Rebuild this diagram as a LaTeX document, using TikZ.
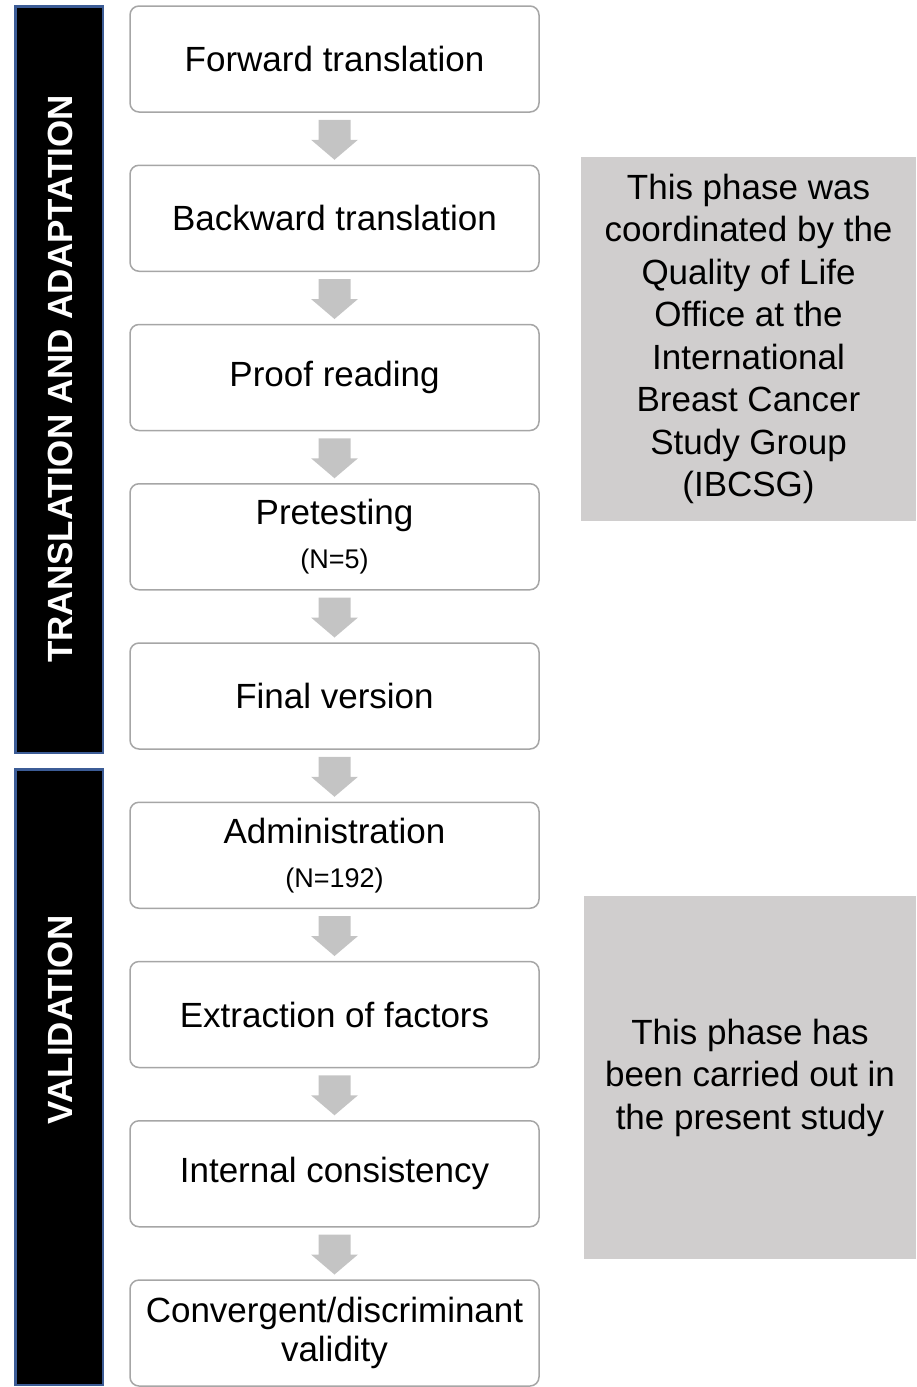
\documentclass[tikz,border=0pt]{standalone}
\usepackage{fontspec}
\setmainfont{Liberation Sans}
\definecolor{barblue}{RGB}{60,92,150}
\definecolor{boxline}{RGB}{166,166,166}
\definecolor{notegrey}{RGB}{208,206,206}
\definecolor{arrowgrey}{RGB}{196,196,196}
\tikzset{
  stepbox/.style={draw=boxline, line width=1.5pt, rounded corners=9pt, fill=white,
    minimum width=409pt, minimum height=106pt, inner sep=0pt, align=center,
    font=\fontsize{35}{44}\selectfont},
  phasebar/.style={fill=black, draw=barblue, line width=2.5pt},
  phaselabel/.style={rotate=90, text=white, font=\bfseries\fontsize{35}{42}\selectfont},
  notebox/.style={fill=notegrey, draw=none, inner sep=0pt, align=center,
    font=\fontsize{35}{42.5}\selectfont},
  blockarrow/.style={fill=arrowgrey, draw=none}
}
\newcommand{\blockdown}[1]{%
  \fill[blockarrow, shift={(#1.south)}] (-16pt,-7pt) -- (16pt,-7pt) -- (16pt,-27pt)
    -- (23.5pt,-27pt) -- (0pt,-47pt) -- (-23.5pt,-27pt) -- (-16pt,-27pt) -- cycle;}
\begin{document}
\begin{tikzpicture}[x=1pt,y=-1pt]
\useasboundingbox (0,0) rectangle (916,1387);
% phase bars
\draw[phasebar] (15.25,6.25) rectangle (102.75,752.75);
\draw[phasebar] (15.25,769.25) rectangle (102.75,1384.75);
\node[phaselabel] (lab1) at (60,379) {TRANSLATION AND ADAPTATION};
\node[phaselabel] (lab2) at (60,1020) {VALIDATION};
% grey note boxes
\node[notebox, minimum width=335pt, minimum height=364pt] (note1) at (748.5,339)
  {This phase was\\coordinated by the\\Quality of Life\\Office at the\\International\\Breast Cancer\\Study Group\\(IBCSG)};
\node[notebox, minimum width=332pt, minimum height=363pt] (note2) at (750,1077.5)
  {This phase has\\been carried out in\\the present study};
% steps
\node[stepbox] (s1) at (334.5,59) {Forward translation};
\node[stepbox] (s2) at (334.5,218.25) {Backward translation};
\node[stepbox] (s3) at (334.5,377.5) {Proof reading};
\node[stepbox] (s4) at (334.5,536.75) {Pretesting\\{\fontsize{27}{44}\selectfont (N=5)}};
\node[stepbox] (s5) at (334.5,696) {Final version};
\node[stepbox] (s6) at (334.5,855.25) {Administration\\{\fontsize{27}{44}\selectfont (N=192)}};
\node[stepbox] (s7) at (334.5,1014.5) {Extraction of factors};
\node[stepbox] (s8) at (334.5,1173.75) {Internal consistency};
\node[stepbox, font=\fontsize{35}{39}\selectfont] (s9) at (334.5,1333) {Convergent/discriminant\\validity};
% arrows
\foreach \a in {s1,s2,s3,s4,s5,s6,s7,s8} {\blockdown{\a}}
\end{tikzpicture}
\end{document}
